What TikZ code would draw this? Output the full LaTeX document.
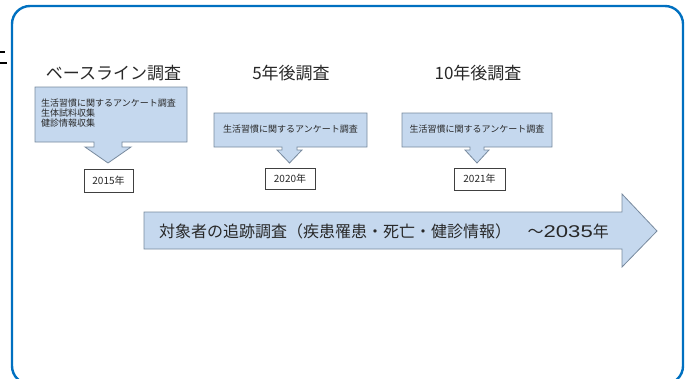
\documentclass[tikz,border=0pt]{standalone}
\usepackage{fontspec}
\setmainfont{Noto Sans CJK JP}
\newfontfamily\digitfont{Liberation Sans}
\definecolor{boxfill}{RGB}{197,216,238}
\definecolor{boxline}{RGB}{120,138,158}
\definecolor{framecol}{RGB}{0,112,192}
\definecolor{txt}{RGB}{40,40,40}
\begin{document}
\begin{tikzpicture}[x=1pt,y=-1pt,
  callout/.style={fill=boxfill,draw=boxline,line width=0.8pt,line join=miter},
  yearbox/.style={draw=black!75,fill=white,line width=0.7pt,inner sep=0pt,
    font=\fontsize{10}{11}\selectfont,text=txt},
  titletext/.style={font=\fontsize{17}{20}\selectfont,text=txt},
  boxtext/.style={font=\fontsize{9}{10.2}\selectfont,text=txt,inner sep=0pt},
  bigtext/.style={font=\fontsize{16}{18}\selectfont,text=txt,inner sep=0pt},
  frame/.style={draw=framecol,line width=2.4pt,rounded corners=18pt}]
\useasboundingbox (0,0) rectangle (690,378);
% outer frame
\draw[frame] (12,6) rectangle (683,384);
% cut-off marks at left edge
\draw[black,line width=1.4pt] (0,52) -- (5,52);
\draw[black,line width=1.4pt] (0,63) -- (7,63);
% titles
\node[titletext] (t1) at (113.5,73) {ベースライン調査};
\node[titletext] (t2) at (291,73) {5年後調査};
\node[titletext] (t3) at (478,73) {10年後調査};
% callout 1
\draw[callout] (35,87) -- (187,87) -- (187,142) -- (122,142) -- (122,147) -- (131,147)
  -- (108,163) -- (85,147) -- (94,147) -- (94,142) -- (35,142) -- cycle;
\node[boxtext,anchor=west,align=left] (b1) at (41,113) {生活習慣に関するアンケート調査\\生体試料収集\\健診情報収集};
% callout 2
\draw[callout] (214,113) -- (367,113) -- (367,147) -- (297,147) -- (297,150) -- (302,150)
  -- (289.5,163) -- (277,150) -- (282,150) -- (282,147) -- (214,147) -- cycle;
\node[boxtext] (b2) at (290.5,129) {生活習慣に関するアンケート調査};
% callout 3
\draw[callout] (402,113) -- (552,113) -- (552,147) -- (484,147) -- (484,150) -- (489,150)
  -- (477,163) -- (465,150) -- (470,150) -- (470,147) -- (402,147) -- cycle;
\node[boxtext] (b3) at (477,129) {生活習慣に関するアンケート調査};
% year boxes
\node[yearbox,minimum width=49pt,minimum height=23pt] (y1) at (108.5,180.5) {2015年};
\node[yearbox,minimum width=50pt,minimum height=21pt] (y2) at (290,178.5) {2020年};
\node[yearbox,minimum width=51pt,minimum height=22pt] (y3) at (479.5,179) {2021年};
% big arrow
\draw[callout] (144,212) -- (622,212) -- (622,194) -- (657,231) -- (622,267) -- (622,249)
  -- (144,249) -- cycle;
\node[bigtext,anchor=west] (follow) at (159,231) {対象者の追跡調査（疾患罹患・死亡・健診情報）};
\node[bigtext,anchor=east] (until) at (609,231) {～{\digitfont\fontsize{17}{18}\selectfont\scalebox{1.3}[1]{2035}}年};
\end{tikzpicture}
\end{document}
